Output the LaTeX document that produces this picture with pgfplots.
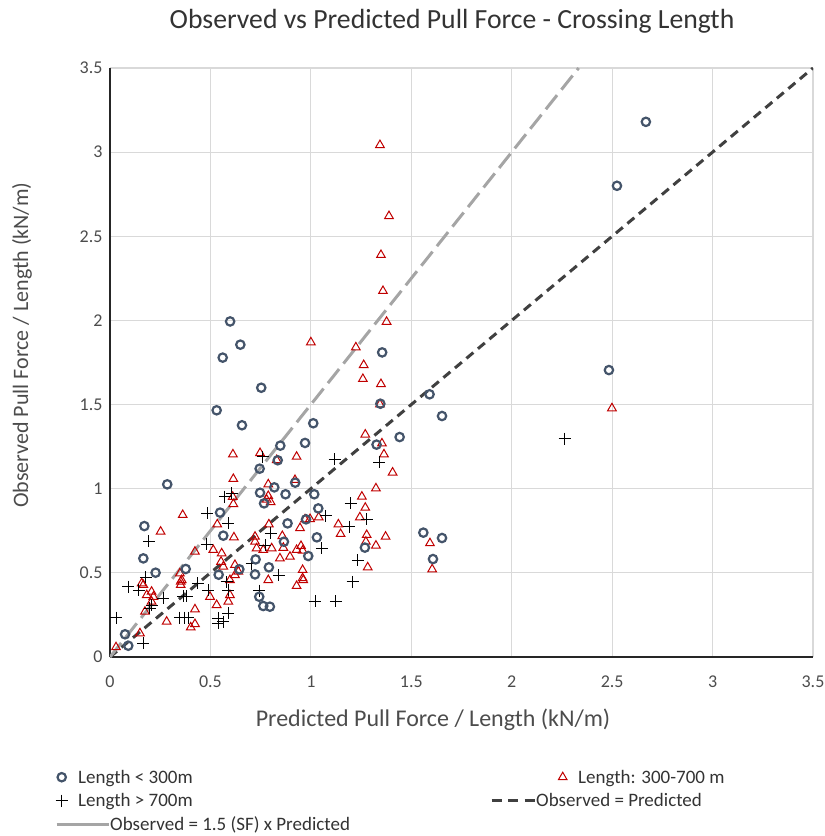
\documentclass[border=0pt]{standalone}
\usepackage{fontspec}
\setmainfont{Carlito}
\usepackage{pgfplots}
\pgfplotsset{compat=1.18}
\definecolor{circ}{HTML}{44546A}
\definecolor{tri}{HTML}{C00000}
\definecolor{refl}{HTML}{404040}
\definecolor{sfl}{HTML}{A5A5A5}
\definecolor{gridc}{HTML}{D9D9D9}
\begin{document}
\begin{tikzpicture}
\begin{axis}[
  scale only axis, width=703bp, height=589bp,
  xmin=0, xmax=3.5, ymin=0, ymax=3.5,
  xtick={0,0.5,1,1.5,2,2.5,3,3.5},
  ytick={0,0.5,1,1.5,2,2.5,3,3.5},
  /pgf/number format/assume math mode=true,
  grid=major, major grid style={gridc, line width=1.2bp},
  axis x line*=bottom, axis y line*=left,
  axis line style={-, black!85, line width=1.3bp},
  major tick length=0pt,
  tick label style={font=\fontsize{18bp}{20bp}\selectfont, text=black!70},
  xticklabel style={yshift=-15bp},
  yticklabel style={xshift=-4bp},
  title={Observed vs Predicted Pull Force - Crossing Length},
  title style={at={(0.4865,1.0696)}, anchor=center, font=\fontsize{27.7bp}{32bp}\selectfont, text=black!80},
  xlabel={Predicted Pull Force / Length (kN/m)},
  xlabel style={at={(0.4595,-0.107)}, anchor=center, font=\fontsize{24bp}{28bp}\selectfont, text=black!70},
  ylabel={Observed Pull Force / Length (kN/m)},
  ylabel style={at={(-0.1252,0.5297)}, anchor=center, font=\fontsize{22bp}{26bp}\selectfont, text=black!70},
  legend columns=2,
  legend cell align=left,
  legend style={at={(-0.0782,-0.1838)}, anchor=north west, draw=none, fill=none, inner sep=0pt,
    font=\fontsize{19bp}{21bp}\selectfont, text=black!80,
    nodes={inner xsep=0pt, inner ysep=0pt, minimum height=23.5bp},
    /tikz/every even column/.append style={column sep=117bp}, row sep=0pt},
]
% reference lines
\addplot[refl, line width=3bp, dash pattern=on 9bp off 6bp, forget plot] coordinates {(0,0) (3.5,3.5)};
\addplot[sfl, line width=3bp, dash pattern=on 18bp off 7bp, forget plot] coordinates {(0,0) (2.3333,3.5)};
% Length 300-700 m
\addplot[only marks, mark=triangle, mark size=5bp, tri, line width=1bp, forget plot] coordinates {
(1.344,3.042) (1.389,2.62) (1.349,2.389) (1.359,2.175) (1.377,1.992) (1.000,1.870) (1.224,1.840)
(1.263,1.735) (1.259,1.652) (1.349,1.622) (1.344,1.501) (2.499,1.478) (1.271,1.322) (1.354,1.269)
(1.364,1.204) (1.407,1.096) (1.324,1.002) (1.254,0.953) (1.271,0.887) (1.244,0.830) (0.996,0.820)
(1.039,0.830) (0.946,0.766) (1.137,0.788) (1.148,0.731) (1.278,0.725) (1.372,0.715) (1.593,0.676)
(1.324,0.662) (1.274,0.685) (0.959,0.632) (1.604,0.521) (1.283,0.533) (0.959,0.517) (0.959,0.468)
(0.929,0.422) (0.612,1.204) (0.747,1.212) (0.830,1.170) (0.929,1.190) (0.614,1.058) (0.788,1.026)
(0.921,1.052) (0.788,0.957) (0.611,0.952) (0.614,0.909) (0.780,0.935) (0.80,0.92) (0.362,0.844)
(0.534,0.788) (0.617,0.711) (0.252,0.745) (0.423,0.626) (0.514,0.636) (0.556,0.616) (0.553,0.566)
(0.722,0.685) (0.730,0.646) (0.763,0.636) (0.805,0.646) (0.791,0.788) (0.858,0.719) (0.846,0.586)
(0.896,0.596) (0.929,0.636) (0.971,0.818) (0.788,0.457) (0.498,0.358) (0.531,0.309) (0.589,0.329)
(0.597,0.368) (0.423,0.283) (0.423,0.196) (0.402,0.176) (0.282,0.210) (0.348,0.497) (0.352,0.448)
(0.352,0.428) (0.166,0.428) (0.183,0.368) (0.207,0.388) (0.216,0.358) (0.207,0.329) (0.174,0.269)
(0.149,0.141) (0.030,0.058) (0.158,0.438) (0.722,0.715) (0.639,0.507) (0.622,0.487) (0.597,0.457)
(0.564,0.537) (0.622,0.547) (0.357,0.457) (0.951,0.660) (0.863,0.649) (0.962,0.457)
};
% Length > 700m
\addplot[only marks, mark=+, mark size=6bp, black, line width=1bp, forget plot] coordinates {
(2.263,1.297) (0.760,1.190) (0.572,0.953) (0.606,0.973) (1.118,1.176) (1.341,1.157) (1.198,0.913)
(1.279,0.818) (1.075,0.838) (1.191,0.774) (1.055,0.646) (1.234,0.576) (1.208,0.446) (1.022,0.331)
(1.125,0.331) (0.484,0.854) (0.589,0.794) (0.193,0.689) (0.481,0.671) (0.840,0.487) (0.772,0.665)
(0.800,0.735) (0.743,0.394) (0.589,0.398) (0.438,0.438) (0.489,0.398) (0.589,0.260) (0.539,0.230)
(0.564,0.210) (0.539,0.200) (0.365,0.362) (0.382,0.362) (0.348,0.234) (0.373,0.234) (0.390,0.234)
(0.265,0.349) (0.179,0.474) (0.091,0.418) (0.144,0.398) (0.207,0.309) (0.199,0.289) (0.030,0.234)
(0.166,0.081) (0.705,0.555) (0.581,0.447)
};
% Length < 300m
\addplot[only marks, mark=o, mark size=4.2bp, circ, line width=2.2bp, forget plot] coordinates {
(2.668,3.18) (2.524,2.80) (2.484,1.705) (0.598,1.994) (0.649,1.856) (0.561,1.779) (0.753,1.600)
(0.531,1.466) (0.657,1.377) (1.012,1.389) (0.848,1.256) (0.971,1.272) (0.745,1.119) (0.835,1.169)
(0.285,1.026) (0.818,1.008) (0.922,1.036) (0.747,0.976) (0.874,0.967) (1.017,0.967) (1.355,1.810)
(1.346,1.505) (1.591,1.561) (1.653,1.432) (1.442,1.307) (1.327,1.262) (1.037,0.883) (0.976,0.818)
(1.560,0.739) (1.653,0.707) (1.030,0.711) (1.269,0.650) (0.987,0.600) (1.608,0.582) (0.767,0.913)
(0.548,0.858) (0.564,0.721) (0.171,0.778) (0.166,0.586) (0.227,0.501) (0.377,0.523) (0.725,0.580)
(0.791,0.533) (0.722,0.491) (0.644,0.521) (0.541,0.489) (0.866,0.685) (0.884,0.794) (0.743,0.358)
(0.763,0.303) (0.796,0.299) (0.075,0.135) (0.091,0.067)
};
% legend
\addlegendimage{legend image code/.code={\draw[circ, line width=2.2bp] plot[mark=o, mark size=4.2bp] coordinates {(5bp,0bp)};}}
\addlegendentry{\hspace*{-32bp}Length < 300m}
\addlegendimage{legend image code/.code={\path (0bp,0bp); \draw[overlay, tri, line width=1bp] plot[mark=triangle, mark size=5bp] coordinates {(71bp,0bp)};}}
\addlegendentry{\hspace*{42bp}Length: 300-700 m}
\addlegendimage{legend image code/.code={\draw[black, line width=1bp] plot[mark=+, mark size=6bp] coordinates {(5bp,0bp)};}}
\addlegendentry{\hspace*{-32bp}Length > 700m}
\addlegendimage{legend image code/.code={\draw[refl, line width=3bp, dash pattern=on 10bp off 6.5bp] (0bp,0bp) -- (43bp,0bp);}}
\addlegendentry{Observed = Predicted}
\addlegendimage{legend image code/.code={\draw[sfl, line width=3bp] (0bp,0bp) -- (52bp,0bp);}}
\addlegendentry{\makebox[263bp][l]{Observed = 1.5 (SF) x Predicted}}
\end{axis}
\pgfresetboundingbox
\useasboundingbox (-110bp,-179bp) rectangle (715bp,657bp);
\end{tikzpicture}
\end{document}
